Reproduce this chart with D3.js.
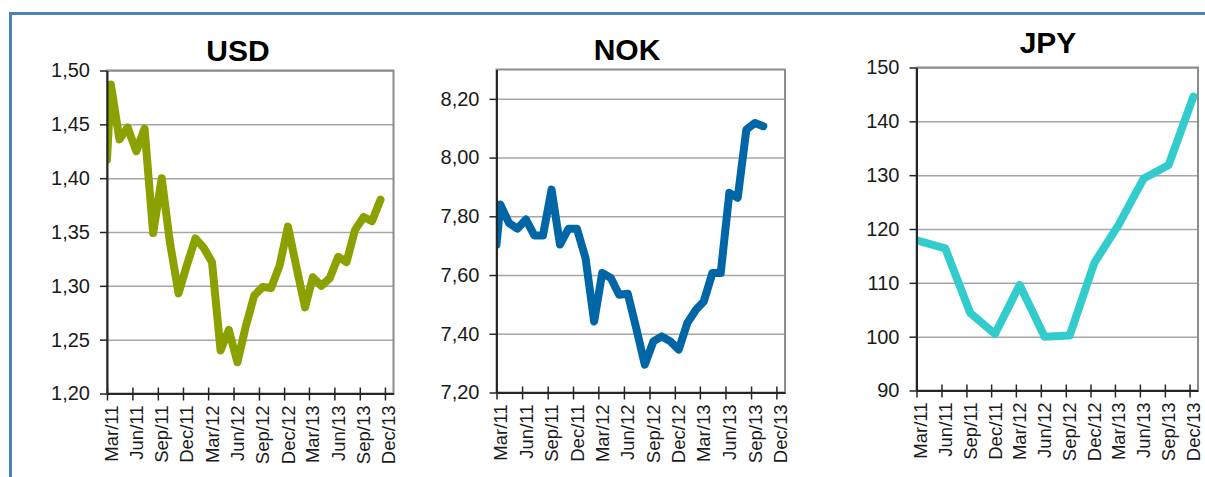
<!DOCTYPE html>
<html>
<head>
<meta charset="utf-8">
<script src="https://cdn.jsdelivr.net/npm/d3@7"></script>
<style>
  body { margin: 0; background: #fff; }
  svg { display: block; font-family: "Liberation Sans", Arial, sans-serif; }
</style>
</head>
<body>
<div id="chart"></div>
<script>
// x tick labels (quarterly)
const quarterLabels = ["Mar/11", "Jun/11", "Sep/11", "Dec/11", "Mar/12", "Jun/12",
  "Sep/12", "Dec/12", "Mar/13", "Jun/13", "Sep/13", "Dec/13"];

// monthly observation dates (first point = start of series)
const monthDates = ["2011-03-01", "2011-03-15", "2011-04-15", "2011-05-15", "2011-06-15",
  "2011-07-15", "2011-08-15", "2011-09-15", "2011-10-15", "2011-11-15", "2011-12-15",
  "2012-01-15", "2012-02-15", "2012-03-15", "2012-04-15", "2012-05-15", "2012-06-15",
  "2012-07-15", "2012-08-15", "2012-09-15", "2012-10-15", "2012-11-15", "2012-12-15",
  "2013-01-15", "2013-02-15", "2013-03-15", "2013-04-15", "2013-05-15", "2013-06-15",
  "2013-07-15", "2013-08-15", "2013-09-15", "2013-10-15", "2013-11-15"];

const usdValues = [1.417, 1.487, 1.436, 1.447, 1.425, 1.446, 1.349, 1.400, 1.340, 1.293,
  1.319, 1.344, 1.335, 1.322, 1.240, 1.259, 1.229, 1.262, 1.291, 1.299, 1.298, 1.319,
  1.355, 1.317, 1.280, 1.308, 1.300, 1.307, 1.327, 1.322, 1.352, 1.364, 1.360, 1.380];

const nokValues = [7.704, 7.840, 7.777, 7.758, 7.789, 7.735, 7.735, 7.891, 7.704, 7.758,
  7.758, 7.658, 7.442, 7.607, 7.590, 7.533, 7.536, 7.420, 7.295, 7.374, 7.391, 7.374,
  7.346, 7.437, 7.482, 7.510, 7.607, 7.607, 7.880, 7.863, 8.095, 8.118, 8.107];

// quarterly JPY
const jpyDates = ["2011-03-01", "2011-06-15", "2011-09-15", "2011-12-15", "2012-03-15",
  "2012-06-15", "2012-09-15", "2012-12-15", "2013-03-15", "2013-06-15", "2013-09-15",
  "2013-12-15"];
const jpyValues = [117.9, 116.4, 104.4, 100.5, 109.6, 100.0, 100.2, 113.7, 120.8, 129.4,
  131.9, 144.6];

const usdTicks = [1.20, 1.25, 1.30, 1.35, 1.40, 1.45, 1.50];
const nokTicks = [7.20, 7.40, 7.60, 7.80, 8.00, 8.20];
const jpyTicks = [90, 100, 110, 120, 130, 140, 150];

const width = 1205, height = 477;
const parseDay = d3.timeParse("%Y-%m-%d");
const parseQuarter = d3.timeParse("%b/%y");
const xStart = parseDay("2011-03-01"), xEnd = parseDay("2014-01-01");

const comma = d3.formatLocale({decimal: ",", thousands: ".", grouping: [3], currency: ["", ""]});

const charts = [
  {id: "usd", title: "USD", dates: monthDates, values: usdValues, ticks: usdTicks, domain: [1.20, 1.50],
   fmt: comma.format(".2f"), color: "#8ba100",
   box: {left: 107, right: 393.5, top: 70.5, bottom: 393.5}, titleX: 238, titleY: 61},
  {id: "nok", title: "NOK", dates: monthDates.slice(0, nokValues.length), values: nokValues, ticks: nokTicks,
   domain: [7.20, 8.30], fmt: comma.format(".2f"), color: "#0066a6",
   box: {left: 496.5, right: 785, top: 69.5, bottom: 392.5}, titleX: 627, titleY: 59.5},
  {id: "jpy", title: "JPY", dates: jpyDates, values: jpyValues, ticks: jpyTicks, domain: [90, 150],
   fmt: d3.format("d"), color: "#33cccc",
   box: {left: 916.5, right: 1198, top: 67.5, bottom: 390.5}, titleX: 1048, titleY: 52.5}
];

const svg = d3.select("#chart")
  .append("svg")
  .attr("width", width)
  .attr("height", height)
  .attr("viewBox", [0, 0, width, height]);

// outer blue frame (top and left edge visible)
svg.append("path")
  .attr("d", `M10.5,${height} V13.5 H${width}`)
  .attr("fill", "none")
  .attr("stroke", "#4f81bd")
  .attr("stroke-width", 3);

charts.forEach(c => {
  const b = c.box;
  const data = c.dates.map((d, i) => ({date: parseDay(d), value: c.values[i]}));

  let x = d3.scaleTime()
    .domain([xStart, xEnd])
    .range([b.left, b.right]);

  let y = d3.scaleLinear()
    .domain(c.domain)
    .range([b.bottom, b.top]);

  const g = svg.append("g");

  g.append("clipPath")
    .attr("id", "clip-" + c.id)
    .append("rect")
    .attr("x", b.left)
    .attr("y", b.top - 10)
    .attr("width", b.right - b.left)
    .attr("height", b.bottom - b.top + 10);

  // gridlines
  g.append("g")
    .attr("transform", `translate(${b.left},0)`)
    .call(d3.axisLeft(y).tickValues(c.ticks).tickFormat("").tickSize(-(b.right - b.left)))
    .call(a => a.select(".domain").remove())
    .selectAll("line")
    .attr("stroke", "#a6a6a6")
    .attr("stroke-width", 1.5);

  // plot frame (top/right in grey)
  g.append("rect")
    .attr("x", b.left)
    .attr("y", b.top)
    .attr("width", b.right - b.left)
    .attr("height", b.bottom - b.top)
    .attr("fill", "none")
    .attr("stroke", "#8c8c8c")
    .attr("stroke-width", 2);

  let line = d3.line()
    .x(d => x(d.date))
    .y(d => y(d.value));

  g.append("path")
    .datum(data)
    .attr("clip-path", `url(#clip-${c.id})`)
    .attr("d", line)
    .attr("fill", "none")
    .attr("stroke", c.color)
    .attr("stroke-width", 8)
    .attr("stroke-linejoin", "round")
    .attr("stroke-linecap", "round");

  // y axis
  g.append("g")
    .attr("transform", `translate(${b.left},0)`)
    .call(d3.axisLeft(y).tickValues(c.ticks).tickFormat(c.fmt).tickSize(7).tickPadding(10).tickSizeOuter(0))
    .call(a => a.select(".domain").attr("stroke", "#262626").attr("stroke-width", 2))
    .call(a => a.selectAll("line").attr("stroke", "#262626").attr("stroke-width", 1.5))
    .call(a => a.selectAll("text")
      .attr("font-size", 20)
      .attr("font-family", "Liberation Sans, Arial, sans-serif")
      .attr("fill", "#1a1a1a"));

  // x axis
  g.append("g")
    .attr("transform", `translate(0,${b.bottom})`)
    .call(d3.axisBottom(x).tickValues(quarterLabels.map(parseQuarter))
      .tickFormat((d, i) => quarterLabels[i]).tickSize(7).tickSizeOuter(0))
    .call(a => a.select(".domain").attr("stroke", "#262626").attr("stroke-width", 2))
    .call(a => a.selectAll("line").attr("y1", -6).attr("stroke", "#262626").attr("stroke-width", 1.5))
    .call(a => a.selectAll("text")
      .attr("transform", "rotate(-90)")
      .attr("text-anchor", "end")
      .attr("x", -12)
      .attr("y", 10)
      .attr("dy", 0)
      .attr("font-size", 18.5)
      .attr("font-family", "Liberation Sans, Arial, sans-serif")
      .attr("fill", "#1a1a1a"));

  // title
  g.append("text")
    .attr("x", c.titleX)
    .attr("y", c.titleY)
    .attr("text-anchor", "middle")
    .attr("font-size", 30)
    .attr("font-weight", "bold")
    .attr("fill", "#000")
    .text(c.title);
});
</script>
</body>
</html>
